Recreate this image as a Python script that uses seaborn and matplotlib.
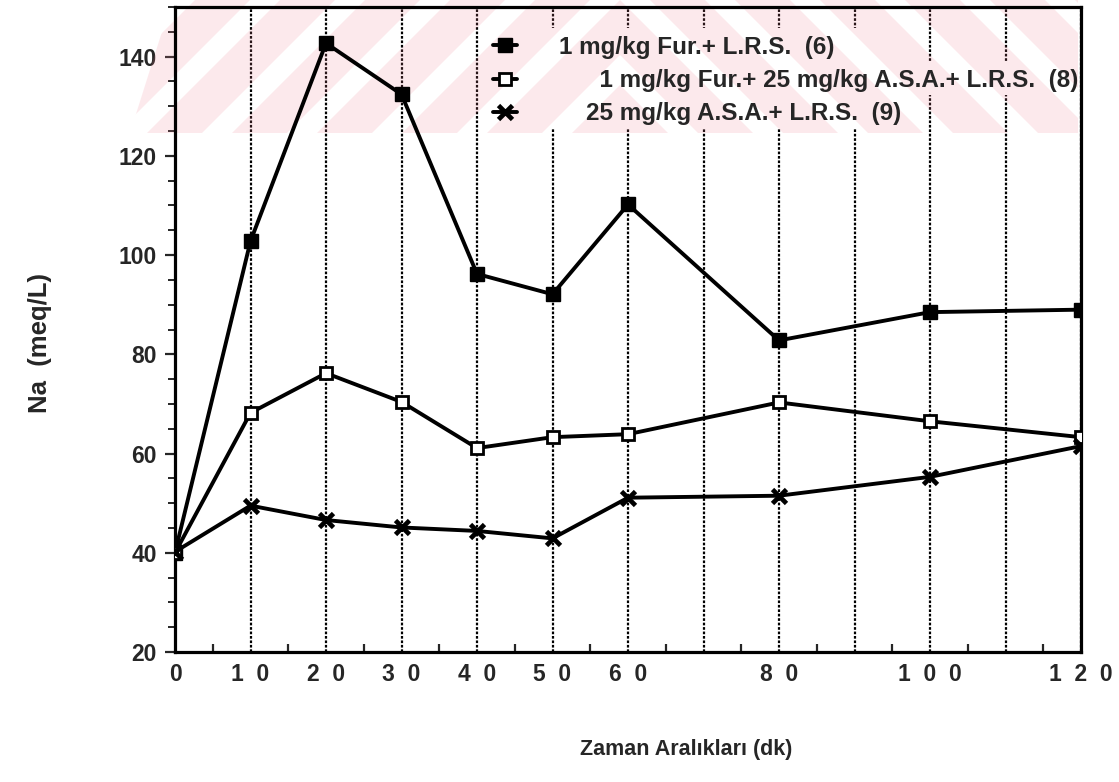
import numpy as np
import pandas as pd
import matplotlib
matplotlib.use("Agg")
import matplotlib.pyplot as plt
import seaborn as sns
from matplotlib.lines import Line2D
from matplotlib.patches import Polygon, Rectangle
from matplotlib.transforms import Affine2D, Bbox, TransformedBbox
from matplotlib.ticker import FixedLocator, MultipleLocator

# Sampling times (minutes)
time_min = [0, 10, 20, 30, 40, 50, 60, 80, 100, 120]

# Urinary sodium (meq/L) for each treatment group
fur_lrs = [40.0, 102.8, 142.7, 132.4, 96.2, 92.1, 110.2, 82.8, 88.5, 89.0]
fur_asa_lrs = [40.0, 68.2, 76.2, 70.4, 61.1, 63.3, 63.9, 70.3, 66.5, 63.3]
asa_lrs = [40.2, 49.5, 46.6, 45.1, 44.4, 42.9, 51.1, 51.5, 55.3, 61.5]

series_labels = [
    "1 mg/kg Fur.+ L.R.S.  (6)",
    "1 mg/kg Fur.+ 25 mg/kg A.S.A.+ L.R.S.  (8)",
    "25 mg/kg A.S.A.+ L.R.S.  (9)",
]
# leading indent of each legend entry
legend_indent = ["", "      ", "    "]

x_tick_values = list(range(0, 121, 10))
x_tick_labels = ["0", "1  0", "2  0", "3  0", "4  0", "5  0", "6  0", "",
                 "8  0", "", "1  0  0", "", "1  2  0"]
y_tick_values = [20, 40, 60, 80, 100, 120, 140]

df = pd.DataFrame({
    "time": time_min * 3,
    "na": fur_lrs + fur_asa_lrs + asa_lrs,
    "group": np.repeat(series_labels, len(time_min)),
})

sns.set_style("white")
plt.rcParams["font.family"] = ["Liberation Sans", "DejaVu Sans"]
plt.rcParams["font.weight"] = "bold"

W, H = 1119, 782
fig = plt.figure(figsize=(W / 100, H / 100), dpi=100)
fig.patch.set_facecolor("white")
ax = fig.add_axes([175 / W, (H - 652) / H, 906 / W, 645 / H])
ax.set_axisbelow(True)

styles = [
    dict(marker="s", markersize=10, markerfacecolor="black",
         markeredgecolor="black", markeredgewidth=1.0),
    dict(marker="s", markersize=9, markerfacecolor="white",
         markeredgecolor="black", markeredgewidth=2.0),
    dict(marker="x", markersize=10, markeredgecolor="black",
         markeredgewidth=3.4),
]

for label, st in zip(series_labels, styles):
    sub = df[df["group"] == label]
    sns.lineplot(data=sub, x="time", y="na", ax=ax, color="black",
                 linewidth=2.8, legend=False, zorder=3, **st)

ax.set_xlim(0, 120)
ax.set_ylim(20, 150)
ax.set_xlabel("")
ax.set_ylabel("")

ax.xaxis.set_major_locator(FixedLocator(x_tick_values))
ax.set_xticklabels(x_tick_labels)
ax.xaxis.set_minor_locator(FixedLocator(np.arange(5, 120, 10)))
ax.yaxis.set_major_locator(FixedLocator(y_tick_values))
ax.yaxis.set_minor_locator(MultipleLocator(5))

ax.tick_params(axis="x", which="major", length=0, pad=8, labelsize=16.5)
ax.tick_params(axis="x", which="minor", direction="in", length=6,
               width=1.6, bottom=True, top=False)
ax.tick_params(axis="y", which="major", direction="out", length=7,
               width=1.6, pad=6, labelsize=16.5, left=True, right=False)
ax.tick_params(axis="y", which="minor", direction="out", length=5,
               width=1.4, left=True, right=False)
for lab in ax.get_xticklabels() + ax.get_yticklabels():
    lab.set_fontweight("bold")

ax.grid(axis="x", which="major", color="black",
        linestyle=(0, (1.2, 0.8)), linewidth=1.6)
ax.grid(axis="y", visible=False)

for sp in ax.spines.values():
    sp.set_color("black")
    sp.set_linewidth(2.3)

# blank area behind the key
for (x0, y0, x1, y1) in [(485, 28, 860, 128), (860, 62, 1078, 95)]:
    ax.add_patch(Rectangle(((x0 - 175) / 906, (652 - y1) / 645),
                           (x1 - x0) / 906, (y1 - y0) / 645,
                           transform=ax.transAxes, facecolor="white",
                           edgecolor="none", zorder=1))

# faint chevron-striped band across the top of the page
px = Affine2D().scale(1 / 100) + fig.dpi_scale_trans
band_box = TransformedBbox(Bbox([[130, H - 133], [1078, H]]), px)
band_shape = Polygon([(130, H - 133), (1078, H - 133), (1078, H), (172, H)],
                     closed=True, transform=px)
apex_x, period, band, span = 620, 85, 55, 1200
for k in range(-2, 22):
    a = H + k * period - 5 * period
    pts = [(apex_x - span, a - span), (apex_x, a), (apex_x + span, a - span),
           (apex_x + span, a - span - band), (apex_x, a - band),
           (apex_x - span, a - span - band)]
    poly = Polygon(pts, closed=True, transform=px, facecolor=(0.95, 0.5, 0.58),
                   edgecolor="none", alpha=0.17, zorder=1.5)
    ax.add_artist(poly)
    poly.set_clip_on(True)
    poly.set_clip_box(band_box)
    poly.set_clip_path(band_shape)

handles = [Line2D([], [], color="black", linewidth=2.8, **st) for st in styles]
leg = ax.legend(handles, [i + s for i, s in zip(legend_indent, series_labels)],
                loc="upper left", bbox_to_anchor=((493 - 175) / 906, (652 - 36) / 645),
                frameon=False, handlelength=1.0, handletextpad=1.7,
                labelspacing=0.42, borderpad=0, borderaxespad=0,
                prop={"family": ["Liberation Sans"], "weight": "bold", "size": 17.5})
leg.set_zorder(5)

fig.text(40 / W, 1 - 343 / H, "Na  (meq/L)", rotation=90, ha="center",
         va="center", fontsize=18.5, fontweight="bold")
fig.text(686 / W, 1 - 750 / H, "Zaman Aralıkları (dk)", ha="center",
         va="center", fontsize=15.5, fontweight="bold")

fig.savefig("out.png", dpi=100, facecolor="white")
